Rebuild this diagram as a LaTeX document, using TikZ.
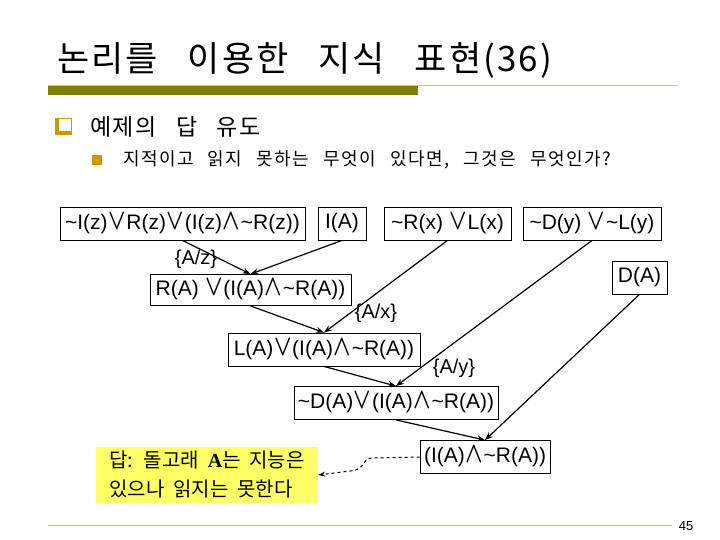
\documentclass[tikz,border=0pt]{standalone}
\usepackage{fontspec}
\setmainfont{Liberation Sans}
\newfontfamily\kr{Noto Sans CJK KR}[WordSpace=2]
\newfontfamily\krs{Noto Sans CJK KR}[WordSpace=2.6,LetterSpace=6]
\newfontfamily\krss{Noto Sans CJK KR}[WordSpace=2.6,LetterSpace=8]
\newfontfamily\krt{Noto Sans CJK KR}[WordSpace=3,LetterSpace=6]
\newfontfamily\serifA{Liberation Serif}
\usetikzlibrary{arrows.meta}
\newcommand\myor{\kern0.03em\raisebox{0.01em}{\scalebox{1.1}[1.4]{\boldmath$\vee$}}\kern0.03em}
\newcommand\myand{\kern0.03em\raisebox{0.01em}{\scalebox{1.1}[1.4]{\boldmath$\wedge$}}\kern0.03em}
\newcommand\mytil{\textasciitilde}
\definecolor{olivebar}{RGB}{128,128,0}
\definecolor{oliveline}{RGB}{204,204,102}
\definecolor{gold}{RGB}{204,153,0}
\definecolor{ansyellow}{RGB}{255,255,102}
\tikzset{
  lbox/.style={draw, line width=0.8pt, inner sep=0pt, minimum height=33pt, font=\fontsize{21}{24}\selectfont},
  lab/.style={inner sep=0pt, font=\fontsize{20}{24}\selectfont},
  arr/.style={line width=1.2pt, -{Stealth[length=8pt,width=6pt]}},
}
\begin{document}
\begin{tikzpicture}[x=1pt,y=-1pt]
\useasboundingbox (0,0) rectangle (720,540);
% title
\node[anchor=base west, inner sep=0pt, font=\krt\fontsize{35}{40}\selectfont] (title) at (57,72) {논리를 이용한 지식 표현(36)};
\draw[oliveline, line width=1pt] (48,85.5) -- (678,85.5);
\fill[olivebar] (48,86) rectangle (418,95);
% bullets
\fill[gold] (55,118) rectangle (72,135);
\fill[white] (58.5,119.5) rectangle (70.5,131.5);
\node[anchor=base west, inner sep=0pt, font=\krs\fontsize{23}{26}\selectfont] (sub1) at (90,136) {예제의 답 유도};
\fill[gold] (92,155) rectangle (102,165);
\node[anchor=base west, inner sep=0pt, font=\krss\fontsize{18}{22}\selectfont] (sub2) at (123,166) {지적이고 읽지 못하는 무엇이 있다면, 그것은 무엇인가?};
% boxes
\node[lbox, minimum width=245pt] (b1) at (182.5,223.5) {\mytil I(z)\myor R(z)\myor(I(z)\myand\mytil R(z))};
\node[lbox, minimum width=48pt] (b2) at (342,223.5) {I(A)};
\node[lbox, minimum width=127pt] (b3) at (447.5,223.5) {\mytil R(x) \myor L(x)};
\node[lbox, minimum width=138pt] (b4) at (592,223.5) {\mytil D(y) \myor\mytil L(y)};
\node[lbox, minimum width=55pt] (b5) at (639.5,277.5) {D(A)};
\node[lbox, minimum width=201pt, minimum height=31pt] (b6) at (250.5,290) {R(A) \myor(I(A)\myand\mytil R(A))};
\node[lbox, minimum width=192pt] (b7) at (324,349.5) {L(A)\myor(I(A)\myand\mytil R(A))};
\node[lbox, minimum width=204pt] (b8) at (396,403) {\mytil D(A)\myor(I(A)\myand\mytil R(A))};
\node[lbox, minimum width=130pt] (b9) at (485,457) {(I(A)\myand\mytil R(A))};
\node[fill=ansyellow, minimum width=222pt, minimum height=56pt, inner sep=0pt, align=left, font=\kr\fontsize{20}{29}\selectfont] (ans) at (207,475) {답: 돌고래 {\serifA\bfseries A}는 지능은\\있으나 읽지는 못한다};
% labels
\node[lab] (lz) at (196,259) {\{A/z\}};
\node[lab] (lx) at (376,313) {\{A/x\}};
\node[lab] (ly) at (454,368) {\{A/y\}};
% connectors
\draw[arr] (b1.south) -- (b6.north);
\draw[arr] (b2.south) -- (b6.north);
\draw[arr] (b3.south) -- (b7.north);
\draw[arr] (b6.south) -- (b7.north);
\draw[arr] (b4.south) -- (b8.north);
\draw[arr] (b7.south) -- (b8.north);
\draw[arr] (b5.south) -- (b9.north);
\draw[arr] (b8.south) -- (b9.north);
\draw[line width=1pt, dashed, -{Stealth[length=7pt,width=5pt]}] (b9.west) -- (372,458) .. controls (362,458) and (366,470) .. (350,471) -- (ans.east);
% footer
\draw[oliveline, line width=1pt] (48,525) -- (672,525);
\node[inner sep=0pt, font=\fontsize{13}{15}\selectfont] (pg) at (686,526) {45};
\end{tikzpicture}
\end{document}
